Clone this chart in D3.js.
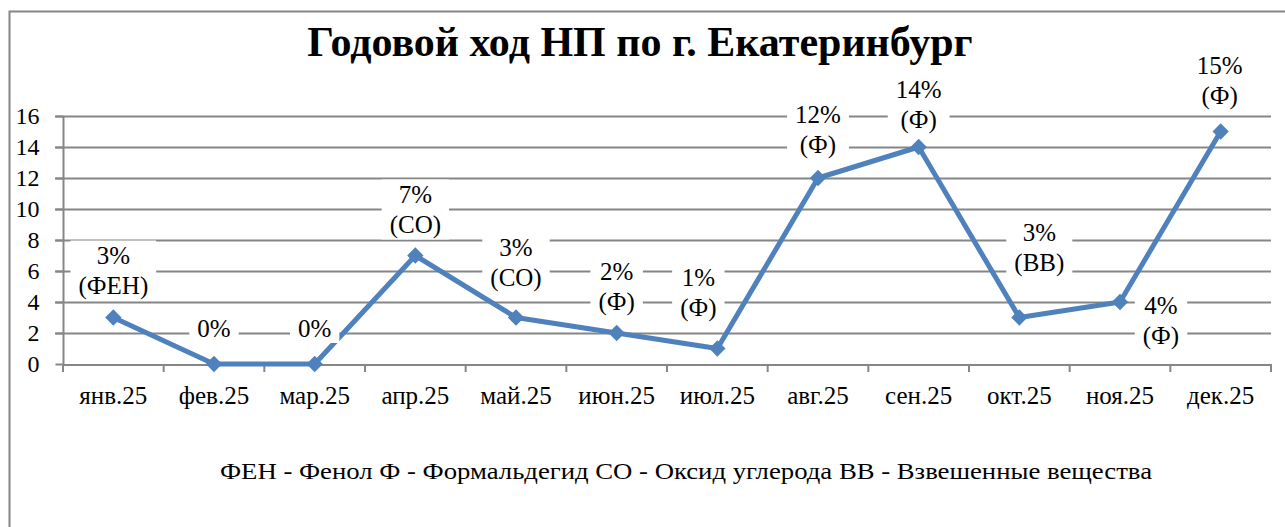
<!DOCTYPE html>
<html>
<head>
<meta charset="utf-8">
<script src="https://cdn.jsdelivr.net/npm/d3@7"></script>
<style>
  body { margin: 0; background: #fff; }
  svg { display: block; }
</style>
</head>
<body>
<div id="chart"></div>
<script>
const months = ["янв.25", "фев.25", "мар.25", "апр.25", "май.25", "июн.25", "июл.25", "авг.25", "сен.25", "окт.25", "ноя.25", "дек.25"];
const values = [3, 0, 0, 7, 3, 2, 1, 12, 14, 3, 4, 15];
const pctLabels = ["3%", "0%", "0%", "7%", "3%", "2%", "1%", "12%", "14%", "3%", "4%", "15%"];
const substances = ["(ФЕН)", "", "", "(СО)", "(СО)", "(Ф)", "(Ф)", "(Ф)", "(Ф)", "(ВВ)", "(Ф)", "(Ф)"];
const yTicks = [0, 2, 4, 6, 8, 10, 12, 14, 16];
const title = "Годовой ход НП по г. Екатеринбург";
const legendText = "ФЕН - Фенол Ф - Формальдегид СО - Оксид углерода ВВ - Взвешенные вещества";

// where each label's first baseline sits relative to its point
const labelOffsets = [
  [0, -54], [0, -27], [0, -27], [0, -53], [0, -62], [0, -53], [-19, -63], [0, -55],
  [0, -49], [20, -77], [41, 12], [-1, -58]
];

const width = 1285, height = 527;
const margin = { top: 116, right: 14, bottom: 163, left: 63 };
const serif = "Liberation Serif";
const gridColor = "#868686";
const lineColor = "#4f81bd";

const svg = d3.select("#chart").append("svg")
  .attr("width", width)
  .attr("height", height)
  .attr("font-family", serif);

// outer chart border
svg.append("rect")
  .attr("x", 9.5).attr("y", 11.5)
  .attr("width", width + 10).attr("height", height + 10)
  .attr("fill", "none")
  .attr("stroke", gridColor)
  .attr("stroke-width", 2);

const x = d3.scaleBand()
  .domain(months)
  .range([margin.left, width - margin.right])
  .paddingInner(0).paddingOuter(0);

const y = d3.scaleLinear()
  .domain([0, 16])
  .range([height - margin.bottom, margin.top]);

// gridlines
svg.append("g")
  .selectAll("line")
  .data(yTicks.filter(d => d > 0))
  .join("line")
  .attr("x1", margin.left - 8)
  .attr("x2", width - margin.right)
  .attr("y1", d => Math.round(y(d)) + 0.5)
  .attr("y2", d => Math.round(y(d)) + 0.5)
  .attr("stroke", gridColor)
  .attr("stroke-width", 2);

// y axis
const yAxis = svg.append("g")
  .attr("transform", `translate(${margin.left + 0.5},0)`)
  .call(d3.axisLeft(y).tickValues(yTicks).tickSize(8).tickPadding(4).tickFormat(d3.format("d")))
  .attr("font-family", serif)
  .attr("font-size", 24);
yAxis.selectAll("path, line").attr("stroke", gridColor).attr("stroke-width", 2);
yAxis.select(".domain").attr("d", `M0,${y(16)}V${y(0)}`);
yAxis.selectAll("text")
  .attr("font-family", serif)
  .attr("fill", "#000")
  .attr("x", -24);

// x axis
const xAxis = svg.append("g")
  .attr("transform", `translate(0,${Math.round(y(0)) + 0.5})`)
  .call(d3.axisBottom(x).tickSize(0).tickPadding(22))
  .attr("font-family", serif)
  .attr("font-size", 25);
xAxis.select(".domain").attr("stroke", gridColor).attr("stroke-width", 2);
xAxis.selectAll("text")
  .attr("font-family", serif)
  .attr("fill", "#000");

// category dividers
svg.append("g")
  .selectAll("line")
  .data(months.concat(["end"]))
  .join("line")
  .attr("x1", (d, i) => i < months.length ? x(d) : x.range()[1])
  .attr("x2", (d, i) => i < months.length ? x(d) : x.range()[1])
  .attr("y1", y(0))
  .attr("y2", y(0) + 8)
  .attr("stroke", gridColor)
  .attr("stroke-width", 2);

// line
const cx = d => x(d) + x.bandwidth() / 2;
svg.append("path")
  .datum(values)
  .attr("fill", "none")
  .attr("stroke", lineColor)
  .attr("stroke-width", 5)
  .attr("stroke-linejoin", "round")
  .attr("d", d3.line().x((d, i) => cx(months[i])).y(d => y(d)));

// diamond markers
svg.append("g")
  .selectAll("path")
  .data(values)
  .join("path")
  .attr("transform", (d, i) => `translate(${cx(months[i])},${y(d)})`)
  .attr("d", d3.symbol(d3.symbolDiamond2, 170)())
  .attr("fill", lineColor);

// data labels with white background
const labels = svg.append("g")
  .selectAll("g")
  .data(values)
  .join("g")
  .attr("transform", (d, i) => `translate(${cx(months[i]) + labelOffsets[i][0]},${y(d) + labelOffsets[i][1]})`);

labels.each(function (d, i) {
  const g = d3.select(this);
  const bg = g.append("rect").attr("fill", "#fff");
  const t = g.append("text")
    .attr("text-anchor", "middle")
    .attr("font-family", serif)
    .attr("font-size", 25)
    .attr("fill", "#000");
  t.append("tspan").attr("x", 0).attr("y", 0).text(pctLabels[i]);
  if (substances[i]) t.append("tspan").attr("x", 0).attr("y", 30).text(substances[i]);
  const b = t.node().getBBox();
  bg.attr("x", b.x - 8).attr("y", b.y - 1).attr("width", b.width + 16).attr("height", b.height + 2);
});

// title
svg.append("text")
  .attr("x", 640)
  .attr("y", 56)
  .attr("text-anchor", "middle")
  .attr("font-family", serif)
  .attr("font-size", 42)
  .attr("font-weight", "bold")
  .attr("fill", "#000")
  .text(title);

// legend line
svg.append("text")
  .attr("x", 686)
  .attr("y", 479)
  .attr("text-anchor", "middle")
  .attr("font-family", serif)
  .attr("font-size", 24)
  .attr("fill", "#000")
  .attr("textLength", 932)
  .attr("lengthAdjust", "spacingAndGlyphs")
  .text(legendText);
</script>
</body>
</html>
